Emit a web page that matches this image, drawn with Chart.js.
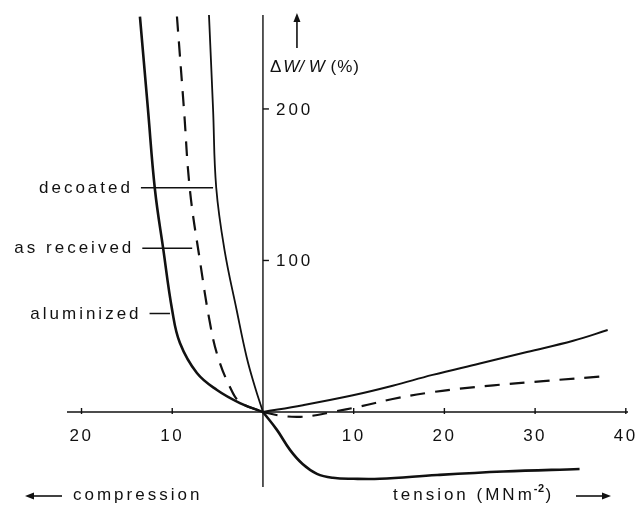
<!DOCTYPE html>
<html>
<head>
<meta charset="utf-8">
<style>
  html, body { margin: 0; padding: 0; background: #fff; }
  #chart { display: block; }
</style>
<script src="https://cdn.jsdelivr.net/npm/chart.js@4/dist/chart.umd.min.js"></script>
</head>
<body>
<canvas id="chart" width="638" height="507"></canvas>
<script>
// dW/W (%) contra tensão aplicada (MN m^-2); compressão plotada à esquerda (valores negativos).
// Cada curva é dividida na origem, onde os dois ramos se encontram em bico.
var decoatedCompStress = [-5.95, -5.5, -5.15, -4.24, -2.9, -1.8, -0.88, 0];
var decoatedCompChange = [262, 200, 148, 107, 67.3, 36.3, 16.5, 0];
var decoatedTensStress = [0, 4.41, 9.92, 14.3, 18.7, 23.9, 29.1, 34.2, 38.0];
var decoatedTensChange = [0, 4.5, 11, 17.3, 24.5, 32, 39.6, 47, 54.1];

var receivedCompStress = [-9.48, -8.71, -8.05, -6.95, -5.84, -4.96, -3.64, -2.54, 0];
var receivedCompChange = [261, 200, 146.5, 100, 58.7, 36.3, 16.5, 6.6, 0];
var receivedTensStress = [0, 2, 4.1, 6, 7.6, 10.7, 14.3, 18.1, 21.7, 25.4, 30.9, 37.9];
var receivedTensChange = [0, -2.5, -3.2, -2, 0, 3.6, 8.6, 12.6, 15.4, 17.6, 20.4, 23.7];

var aluminizedCompStress = [-13.56, -12.68, -11.9, -11.0, -10.0, -9.15, -7.28, -5.07, -2.54, 0];
var aluminizedCompChange = [261, 200, 146.5, 108, 67, 45.5, 25.7, 14.5, 5.9, 0];
var aluminizedTensStress = [0, 1.54, 2.98, 4.4, 5.95, 7.7, 10.0, 12.9, 19.2, 26.5, 34.9];
var aluminizedTensChange = [0, -11.8, -25, -34.5, -40.8, -43.4, -44.1, -44.1, -41.6, -39.3, -37.6];

var xTicks = [-20, -10, 10, 20, 30, 40];
var yTicks = [100, 200];
var curveNames = ["decoated", "as received", "aluminized"];

// linhas de chamada (em unidades dos dados): y, x inicial, x final
var leaders = [
  { y: 148, x0: -13.45, x1: -5.5 },
  { y: 108, x0: -13.3, x1: -7.8 },
  { y: 65, x0: -12.5, x1: -10.25 },
];

var INK = "#111";

function points(xs, ys) {
  return xs.map(function (x, i) { return { x: x, y: ys[i] }; });
}

function txt(ctx, s, x, y, align, font, spacing) {
  ctx.font = font;
  if ("letterSpacing" in ctx) ctx.letterSpacing = spacing + "px";
  var w = ctx.measureText(s).width;
  var sx = align === "center" ? x - w / 2 : align === "right" ? x - w : x;
  ctx.textAlign = "left";
  ctx.fillText(s, sx, y);
  return sx + w;
}

function line(ctx, x0, y0, x1, y1, w) {
  ctx.lineWidth = w;
  ctx.beginPath();
  ctx.moveTo(x0, y0);
  ctx.lineTo(x1, y1);
  ctx.stroke();
}

function arrowHead(ctx, x, y, dir) {
  ctx.beginPath();
  if (dir === "left") { ctx.moveTo(x, y); ctx.lineTo(x + 9, y - 3.5); ctx.lineTo(x + 9, y + 3.5); }
  if (dir === "right") { ctx.moveTo(x, y); ctx.lineTo(x - 9, y - 3.5); ctx.lineTo(x - 9, y + 3.5); }
  if (dir === "up") { ctx.moveTo(x, y); ctx.lineTo(x - 3.5, y + 9); ctx.lineTo(x + 3.5, y + 9); }
  ctx.closePath();
  ctx.fill();
}

var axesPlugin = {
  id: "crossAxes",
  beforeDatasetsDraw: function (chart) {
    var ctx = chart.ctx;
    var xs = chart.scales.x, ys = chart.scales.y;
    var a = chart.chartArea;
    var x0 = xs.getPixelForValue(0), y0 = ys.getPixelForValue(0);
    var F = "17px 'Liberation Sans', Arial, sans-serif";
    ctx.save();
    ctx.strokeStyle = INK;
    ctx.fillStyle = INK;
    ctx.lineCap = "butt";
    ctx.textBaseline = "alphabetic";

    line(ctx, a.left, y0, a.right, y0, 1.6);
    line(ctx, x0, a.top, x0, a.bottom, 1.4);

    xTicks.forEach(function (v) {
      var px = xs.getPixelForValue(v);
      line(ctx, px, y0 - 4, px, y0 + 2, 1.4);
      txt(ctx, String(Math.abs(v)), px, y0 + 29, "center", F, 2.5);
    });
    yTicks.forEach(function (v) {
      var py = ys.getPixelForValue(v);
      line(ctx, x0, py, x0 + 6, py, 1.4);
      txt(ctx, String(v), x0 + 13, py + 6, "left", F, 3);
    });

    // seta e rótulo do eixo y
    line(ctx, x0 + 34, a.top + 6, x0 + 34, a.top + 33, 1.6);
    arrowHead(ctx, x0 + 34, a.top - 2, "up");
    var lx = x0 + 7, ly = 72;
    lx = txt(ctx, "\u0394", lx, ly, "left", F, 1);
    lx = txt(ctx, "W/ W", lx + 1, ly, "left", "italic " + F, 0);
    txt(ctx, " (%)", lx, ly, "left", F, 1);

    // chamadas das curvas
    leaders.forEach(function (l, i) {
      var py = ys.getPixelForValue(l.y);
      var p0 = xs.getPixelForValue(l.x0), p1 = xs.getPixelForValue(l.x1);
      line(ctx, p0, py, p1, py, 1.5);
      txt(ctx, curveNames[i], p0 - 8, py + 5, "right", F, 3);
    });

    // legendas de compressão / tensão
    var by = 500;
    line(ctx, 32, by - 4, 62, by - 4, 1.6);
    arrowHead(ctx, 25, by - 4, "left");
    txt(ctx, "compression", 73, by, "left", F, 3);

    var tx = txt(ctx, "tension (MNm", 393, by, "left", F, 3);
    tx = txt(ctx, "-2", tx - 1, by - 8, "left", "bold 11px 'Liberation Sans', Arial, sans-serif", 0.5);
    txt(ctx, ")", tx + 1, by, "left", F, 3);
    line(ctx, 576, by - 4, 604, by - 4, 1.6);
    arrowHead(ctx, 611, by - 4, "right");
    ctx.restore();
  },
};

function curve(xs, ys, width, dash) {
  return {
    data: points(xs, ys),
    showLine: true,
    borderColor: INK,
    borderWidth: width,
    borderDash: dash || [],
    pointRadius: 0,
    fill: false,
    tension: 0.4,
    clip: false,
  };
}

new Chart(document.getElementById("chart"), {
  type: "scatter",
  data: {
    datasets: [
      curve(decoatedCompStress, decoatedCompChange, 1.8),
      curve(decoatedTensStress, decoatedTensChange, 2.0),
      curve(receivedCompStress, receivedCompChange, 2.2, [15, 10]),
      curve(receivedTensStress, receivedTensChange, 2.2, [15, 10]),
      curve(aluminizedCompStress, aluminizedCompChange, 2.6),
      curve(aluminizedTensStress, aluminizedTensChange, 2.6),
    ],
  },
  options: {
    responsive: false,
    animation: false,
    layout: { padding: { left: 67, right: 10, top: 15, bottom: 20 } },
    scales: {
      x: { type: "linear", min: -21.6, max: 40.24, display: false },
      y: { type: "linear", min: -49.5, max: 262, display: false },
    },
    plugins: { legend: { display: false }, tooltip: { enabled: false } },
  },
  plugins: [axesPlugin],
});
</script>
</body>
</html>
